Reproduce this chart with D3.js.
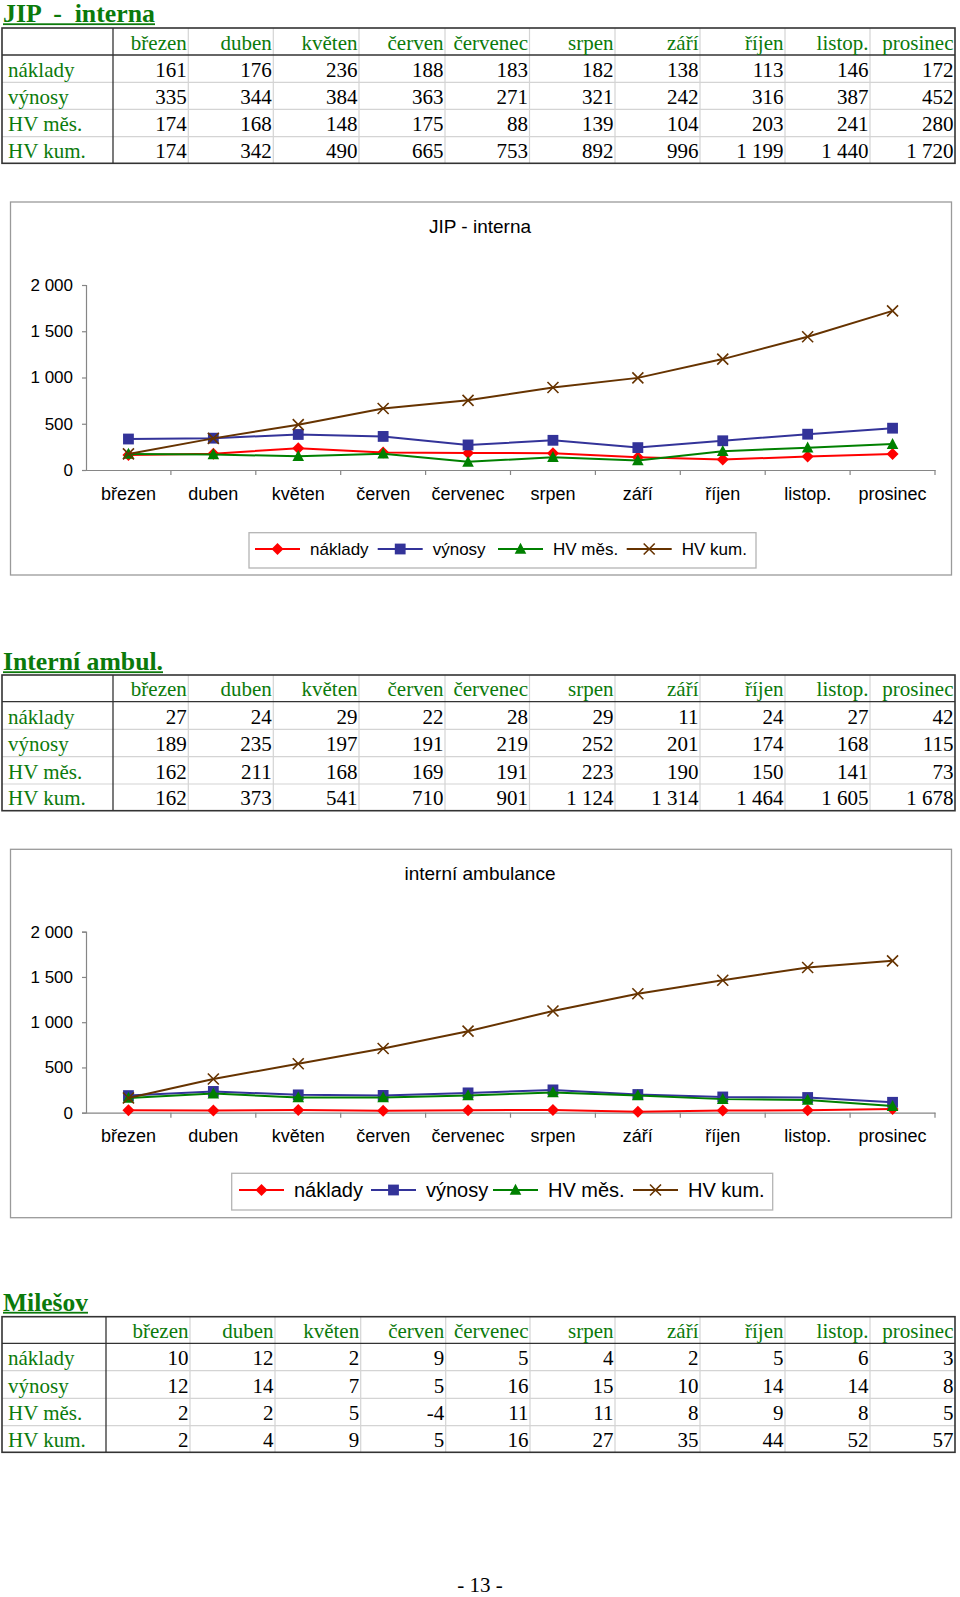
<!DOCTYPE html>
<html>
<head>
<meta charset="utf-8">
<script src="https://cdn.jsdelivr.net/npm/d3@7"></script>
<style>
html,body{margin:0;padding:0;background:#fff;}
svg{display:block;}
</style>
</head>
<body>
<svg id="page" width="960" height="1597"></svg>
<script>
// ---------- DATA ----------
const months = ["březen","duben","květen","červen","červenec","srpen","září","říjen","listop.","prosinec"];
const rowLabels = ["náklady","výnosy","HV měs.","HV kum."];
const yTicks = [0, 500, 1000, 1500, 2000];

const jipNaklady = [161,176,236,188,183,182,138,113,146,172];
const jipVynosy  = [335,344,384,363,271,321,242,316,387,452];
const jipHvMes   = [174,168,148,175,88,139,104,203,241,280];
const jipHvKum   = [174,342,490,665,753,892,996,1199,1440,1720];

const ambNaklady = [27,24,29,22,28,29,11,24,27,42];
const ambVynosy  = [189,235,197,191,219,252,201,174,168,115];
const ambHvMes   = [162,211,168,169,191,223,190,150,141,73];
const ambHvKum   = [162,373,541,710,901,1124,1314,1464,1605,1678];

const milNaklady = [10,12,2,9,5,4,2,5,6,3];
const milVynosy  = [12,14,7,5,16,15,10,14,14,8];
const milHvMes   = [2,2,5,-4,11,11,8,9,8,5];
const milHvKum   = [2,4,9,5,16,27,35,44,52,57];

const tableTitles = ["JIP  -  interna", "Interní ambul.", "Milešov"];
const chartTitles = ["JIP - interna", "interní ambulance"];
const pageNumber = "- 13 -";

// ---------- STYLE ----------
const GREEN = "#0b7a0b";
const seriesStyle = [
  {color:"#ff0000", marker:"diamond"},
  {color:"#333399", marker:"square"},
  {color:"#008000", marker:"triangle"},
  {color:"#663300", marker:"x"}
];
const SERIF = "'Liberation Serif','Times New Roman',serif";
const SANS = "'Liberation Sans',Arial,sans-serif";

const loc = d3.formatLocale({decimal:",", thousands:"\u00a0", grouping:[3], currency:["",""], minus:"-"});
const fmt = loc.format(",d");

const svg = d3.select("#page");

// ---------- TABLES ----------
function drawTable(title, titleBase, titleWidth, colEdges, rowEdges, data) {
  const g = svg.append("g");
  g.append("text").attr("x", 3).attr("y", titleBase)
    .attr("font-family", SERIF).attr("font-weight", "bold").attr("font-size", 24.5)
    .attr("fill", GREEN).attr("xml:space","preserve").style("white-space","pre")
    .attr("textLength", titleWidth).attr("lengthAdjust", "spacingAndGlyphs").text(title);
  g.append("rect").attr("x", 3).attr("y", titleBase + 1.3).attr("width", titleWidth).attr("height", 1.8).attr("fill", GREEN);

  const left = colEdges[0], right = colEdges[colEdges.length-1];
  const top = rowEdges[0], bottom = rowEdges[rowEdges.length-1];
  colEdges.slice(2, -1).forEach(x => g.append("line").attr("x1", x).attr("x2", x).attr("y1", top).attr("y2", bottom)
    .attr("stroke", "#d4d4d4").attr("stroke-width", 1.2));
  rowEdges.slice(2, -1).forEach(y => g.append("line").attr("x1", left).attr("x2", right).attr("y1", y).attr("y2", y)
    .attr("stroke", "#d4d4d4").attr("stroke-width", 1.2));
  g.append("line").attr("x1", colEdges[1]).attr("x2", colEdges[1]).attr("y1", top).attr("y2", bottom)
    .attr("stroke", "#333").attr("stroke-width", 1.3);
  g.append("line").attr("x1", left).attr("x2", right).attr("y1", rowEdges[1]).attr("y2", rowEdges[1])
    .attr("stroke", "#333").attr("stroke-width", 1.3);
  g.append("rect").attr("x", left).attr("y", top).attr("width", right-left).attr("height", bottom-top)
    .attr("fill", "none").attr("stroke", "#333").attr("stroke-width", 1.6);

  months.forEach((m, i) => {
    g.append("text").attr("x", colEdges[i+2] - 1.5).attr("y", rowEdges[1] - 5.5)
      .attr("text-anchor", "end").attr("font-family", SERIF).attr("font-size", 21)
      .attr("fill", GREEN).text(m);
  });
  rowLabels.forEach((lab, r) => {
    const yb = rowEdges[r+2] - 5.5;
    g.append("text").attr("x", left + 6).attr("y", yb).attr("font-family", SERIF).attr("font-size", 21)
      .attr("fill", GREEN).text(lab);
    data[r].forEach((v, i) => {
      g.append("text").attr("x", colEdges[i+2] - 1.5).attr("y", yb)
        .attr("text-anchor", "end").attr("font-family", SERIF).attr("font-size", 21)
        .attr("fill", "#000").text(fmt(v));
    });
  });
}

const colsA = [2, 113, 188.3, 273.3, 359, 445, 529.5, 615, 700, 785, 870, 955];
const colsB = [2, 106, 190, 275, 360.7, 445.7, 530, 615, 700, 785, 870, 955];

drawTable(tableTitles[0], 22, 152, colsA, [28, 55, 82.3, 109.3, 136.7, 163.3],
  [jipNaklady, jipVynosy, jipHvMes, jipHvKum]);
drawTable(tableTitles[1], 670, 160, colsA, [675, 701.7, 729.3, 756.7, 784, 810.7],
  [ambNaklady, ambVynosy, ambHvMes, ambHvKum]);
drawTable(tableTitles[2], 1310.5, 85, colsB, [1316.7, 1343.3, 1370.7, 1398.3, 1425.7, 1452.3],
  [milNaklady, milVynosy, milHvMes, milHvKum]);

// ---------- CHARTS ----------
function marker(sel, type, color, cx, cy) {
  if (type === "diamond") {
    sel.append("path").attr("d", `M${cx},${cy-6}L${cx+6},${cy}L${cx},${cy+6}L${cx-6},${cy}Z`).attr("fill", color);
  } else if (type === "square") {
    sel.append("rect").attr("x", cx-5.4).attr("y", cy-5.4).attr("width", 10.8).attr("height", 10.8).attr("fill", color);
  } else if (type === "triangle") {
    sel.append("path").attr("d", `M${cx},${cy-6.2}L${cx+5.8},${cy+4.8}L${cx-5.8},${cy+4.8}Z`).attr("fill", color);
  } else {
    sel.append("path").attr("d", `M${cx-5.5},${cy-5.5}L${cx+5.5},${cy+5.5}M${cx-5.5},${cy+5.5}L${cx+5.5},${cy-5.5}`)
      .attr("stroke", color).attr("stroke-width", 1.6).attr("fill", "none");
  }
}

function drawChart(cfg) {
  const g = svg.append("g");
  g.append("rect").attr("x", cfg.frame[0]).attr("y", cfg.frame[1]).attr("width", cfg.frame[2]-cfg.frame[0])
    .attr("height", cfg.frame[3]-cfg.frame[1]).attr("fill", "#fff").attr("stroke", "#9a9a9a").attr("stroke-width", 1.3);
  g.append("text").attr("x", 480).attr("y", cfg.titleY).attr("text-anchor", "middle")
    .attr("font-family", SANS).attr("font-size", 19).attr("fill", "#000").text(cfg.title);

  const x = d3.scaleBand().domain(months).range([86, 935]).paddingInner(0).paddingOuter(0);
  const y = d3.scaleLinear().domain([0, 2000]).range([cfg.y0, cfg.y2000]);

  const ya = g.append("g").attr("transform", "translate(86,0)")
    .call(d3.axisLeft(y).tickValues(yTicks).tickSize(4).tickPadding(9).tickFormat(fmt));
  ya.select(".domain").attr("stroke", "#868686").attr("stroke-width", 1.2);
  ya.selectAll(".tick line").attr("stroke", "#868686").attr("stroke-width", 1.2);
  ya.selectAll(".tick text").attr("font-family", SANS).attr("font-size", 17).attr("fill", "#000");

  const xa = g.append("g").attr("transform", `translate(0,${cfg.y0})`)
    .call(d3.axisBottom(x).tickSize(0).tickPadding(cfg.xLabelPad));
  xa.select(".domain").attr("stroke", "#868686").attr("stroke-width", 1.2);
  xa.selectAll(".tick text").attr("font-family", SANS).attr("font-size", 18).attr("fill", "#000");
  const bounds = months.map(m => x(m)).concat([x.range()[1]]).slice(1);
  bounds.forEach(b => xa.append("line").attr("x1", b).attr("x2", b).attr("y1", 0).attr("y2", 5)
    .attr("stroke", "#868686").attr("stroke-width", 1.2));

  const cxOf = i => x(months[i]) + x.bandwidth()/2;
  const line = d3.line().x((d, i) => cxOf(i)).y(d => y(d));
  cfg.series.forEach((vals, s) => {
    const st = seriesStyle[s];
    g.append("path").attr("d", line(vals)).attr("fill", "none").attr("stroke", st.color).attr("stroke-width", 2);
    vals.forEach((v, i) => marker(g, st.marker, st.color, cxOf(i), y(v)));
  });

  const L = cfg.legend;
  g.append("rect").attr("x", L.box[0]).attr("y", L.box[1]).attr("width", L.box[2]-L.box[0])
    .attr("height", L.box[3]-L.box[1]).attr("fill", "#fff").attr("stroke", "#b4b4b4").attr("stroke-width", 1.3);
  rowLabels.forEach((lab, s) => {
    const st = seriesStyle[s];
    const x0 = L.itemX[s];
    g.append("line").attr("x1", x0).attr("x2", x0 + 45).attr("y1", L.cy).attr("y2", L.cy)
      .attr("stroke", st.color).attr("stroke-width", 2);
    marker(g, st.marker, st.color, x0 + 22.5, L.cy);
    g.append("text").attr("x", x0 + L.textGap).attr("y", L.cy).attr("dy", "0.35em")
      .attr("font-family", SANS).attr("font-size", L.fontSize).attr("fill", "#000").text(lab);
  });
}

drawChart({
  frame: [10.5, 202, 951.5, 575],
  title: chartTitles[0], titleY: 233,
  y0: 470, y2000: 285, xLabelPad: 17,
  series: [jipNaklady, jipVynosy, jipHvMes, jipHvKum],
  legend: {box: [249, 532.7, 756, 568], cy: 549, itemX: [255, 377.7, 498, 626.7], textGap: 55, fontSize: 17}
});
drawChart({
  frame: [10.5, 849.3, 951.5, 1217.7],
  title: chartTitles[1], titleY: 880,
  y0: 1112.7, y2000: 931.7, xLabelPad: 17,
  series: [ambNaklady, ambVynosy, ambHvMes, ambHvKum],
  legend: {box: [231.7, 1173.3, 772.7, 1210], cy: 1190, itemX: [239, 371, 493, 633], textGap: 55, fontSize: 20}
});

svg.append("text").attr("x", 480).attr("y", 1592).attr("text-anchor", "middle")
  .attr("font-family", SERIF).attr("font-size", 21).attr("fill", "#000").text(pageNumber);
</script>
</body>
</html>
